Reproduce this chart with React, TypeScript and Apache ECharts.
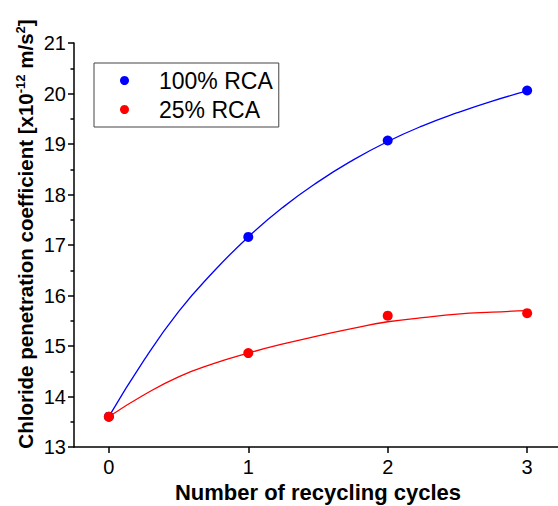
import React, { useEffect, useRef } from "react";
import * as echarts from "echarts";

const cycles = [0, 1, 2, 3];
const rca100 = [13.6, 17.16, 19.07, 20.06];
const rca25 = [13.6, 14.86, 15.6, 15.65];

const fitX = [0, 0.25, 0.5, 0.75, 1, 1.25, 1.5, 1.75, 2, 2.25, 2.5, 2.75, 3];
const fit100 = [13.6, 14.71, 15.68, 16.47, 17.16, 17.75, 18.25, 18.68, 19.05, 19.36, 19.62, 19.85, 20.05];
const fit25 = [13.6, 14.03, 14.39, 14.65, 14.86, 15.04, 15.2, 15.35, 15.48, 15.56, 15.63, 15.67, 15.7];

const xTicks = [0, 1, 2, 3];
const seriesNames = ["100% RCA", "25% RCA"];
const xTitle = "Number of recycling cycles";

const FONT = "'Liberation Sans', Arial, sans-serif";

export default function App() {
  const ref = useRef<HTMLDivElement>(null);
  useEffect(() => {
    if (!ref.current) return;
    const chart = echarts.init(ref.current, undefined, { renderer: "svg" });
    const pairs = (xs: number[], ys: number[]) => xs.map((x, i) => [x, ys[i]]);
    chart.setOption({
      animation: false,
      backgroundColor: "#ffffff",
      textStyle: { fontFamily: FONT },
      grid: { left: 74, top: 43, width: 488, height: 404, outerBoundsMode: "none", containLabel: false },
      legend: {
        data: seriesNames,
        orient: "vertical",
        left: 94,
        top: 63,
        padding: [6, 6, 6, 26],
        itemGap: 6,
        itemWidth: 9,
        itemHeight: 9,
        icon: "circle",
        borderColor: "#444",
        borderWidth: 1,
        borderRadius: 0,
        itemStyle: { opacity: 1 },
        textStyle: {
          fontSize: 23,
          color: "#000",
          fontFamily: FONT,
          lineHeight: 23,
          padding: [0, 0, 0, 25],
        },
      },
      xAxis: {
        type: "value",
        min: -0.25,
        max: 3.25,
        name: xTitle,
        nameLocation: "middle",
        nameGap: 34,
        nameTextStyle: { fontSize: 22, fontWeight: "bold", color: "#000", fontFamily: FONT },
        splitLine: { show: false },
        axisLine: { show: true, onZero: false, lineStyle: { color: "#000", width: 1.5 } },
        axisTick: { show: true, inside: false, length: 6, customValues: xTicks, lineStyle: { color: "#000", width: 1.5 } },
        axisLabel: { customValues: xTicks, fontSize: 20, color: "#000", margin: 10, fontFamily: FONT },
      },
      yAxis: {
        type: "value",
        min: 13,
        max: 21,
        interval: 1,
        splitLine: { show: false },
        axisLine: { show: true, onZero: false, lineStyle: { color: "#000", width: 1.5 } },
        axisTick: { show: true, inside: false, length: 6, lineStyle: { color: "#000", width: 1.5 } },
        minorTick: { show: true, splitNumber: 2, length: 3.5, lineStyle: { color: "#000", width: 1.5 } },
        axisLabel: { fontSize: 20, color: "#000", margin: 8, fontFamily: FONT },
      },
      graphic: [
        {
          type: "text",
          x: 25,
          y: 234,
          rotation: Math.PI / 2,
          style: {
            text: "Chloride penetration coefficient [x10{sup|-12} m/s{sup|2}]",
            fontSize: 20.5,
            fontWeight: "bold",
            fontFamily: FONT,
            fill: "#000",
            align: "center",
            verticalAlign: "middle",
            rich: {
              sup: {
                fontSize: 13,
                fontWeight: "bold",
                fontFamily: FONT,
                fill: "#000",
                verticalAlign: "top",
                padding: [0, 0, 10, 0],
              },
            },
          },
        },
      ],
      series: [
        {
          name: "fit100",
          type: "line",
          data: pairs(fitX, fit100),
          smooth: true,
          showSymbol: false,
          silent: true,
          lineStyle: { color: "#0000ff", width: 1.3 },
          z: 2,
        },
        {
          name: "fit25",
          type: "line",
          data: pairs(fitX, fit25),
          smooth: true,
          showSymbol: false,
          silent: true,
          lineStyle: { color: "#ff0000", width: 1.3 },
          z: 2,
        },
        {
          name: seriesNames[0],
          type: "scatter",
          data: pairs(cycles, rca100),
          symbolSize: 10,
          itemStyle: { color: "#0000ff", opacity: 1 },
          z: 3,
        },
        {
          name: seriesNames[1],
          type: "scatter",
          data: pairs(cycles, rca25),
          symbolSize: 10,
          itemStyle: { color: "#ff0000", opacity: 1 },
          z: 4,
        },
      ],
    });
    return () => chart.dispose();
  }, []);
  return (
    <div
      ref={ref}
      style={{ position: "absolute", left: 0, top: 0, width: 558, height: 506 }}
    />
  );
}
